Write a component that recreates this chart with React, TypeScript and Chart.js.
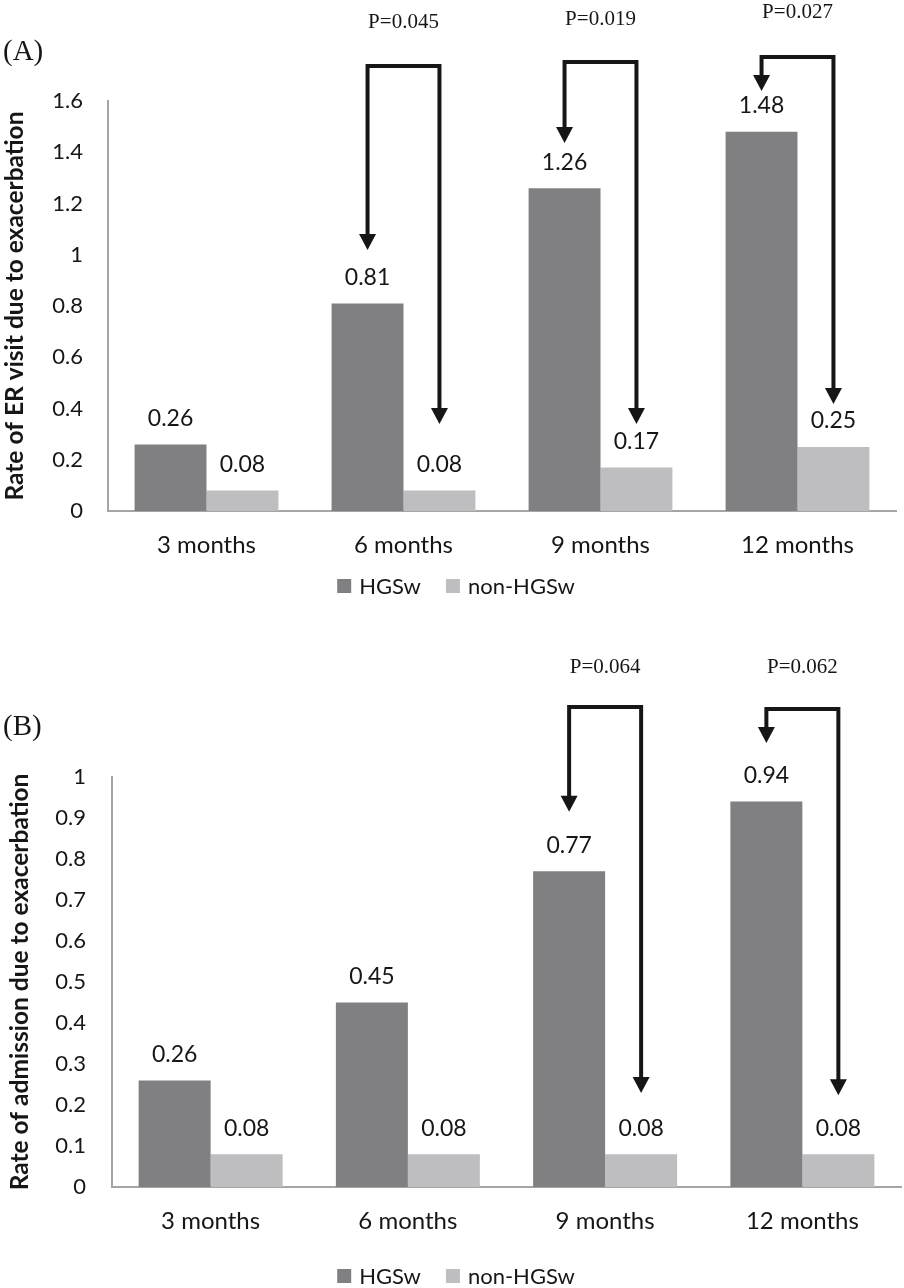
import React, { useEffect, useRef } from 'react';
import { Chart, registerables } from 'chart.js';

Chart.register(...registerables);

// ---------- data ----------
const categories = ['3 months', '6 months', '9 months', '12 months'];
const seriesLabels = ['HGSw', 'non-HGSw'];
const seriesColors = ['#808083', '#bebec0'];

// Panel A: ER visits
const erHGSw = [0.26, 0.81, 1.26, 1.48];
const erNonHGSw = [0.08, 0.08, 0.17, 0.25];
const erTicks = [0, 0.2, 0.4, 0.6, 0.8, 1, 1.2, 1.4, 1.6];
const erPText = ['', 'P=0.045', 'P=0.019', 'P=0.027'];
const erBracketTop = [null, 1.737, 1.752, 1.772];
const erLeftTip = [null, 1.019, 1.436, 1.639];
const erRightTip = [null, 0.34, 0.34, 0.418];
const erPAt = [null, 1.908, 1.92, 1.947];

// Panel B: admissions
const admHGSw = [0.26, 0.45, 0.77, 0.94];
const admNonHGSw = [0.08, 0.08, 0.08, 0.08];
const admTicks = [0, 0.1, 0.2, 0.3, 0.4, 0.5, 0.6, 0.7, 0.8, 0.9, 1];
const admPText = ['', '', 'P=0.064', 'P=0.062'];
const admBracketTop = [null, null, 1.171, 1.166];
const admLeftTip = [null, null, 0.915, 1.083];
const admRightTip = [null, null, 0.229, 0.224];
const admPAt = [null, null, 1.268, 1.266];

const TEXT = '#161616';
const SANS = 'Lato, "Noto Sans", sans-serif';
const SERIF = '"Liberation Serif", "DejaVu Serif", serif';

type PanelProps = {
  top: number;
  height: number;
  letter: string;
  letterY: number;
  yTitle: string;
  titlePad: number;
  hgsw: number[];
  non: number[];
  ticks: number[];
  pText: string[];
  bracketTop: (number | null)[];
  leftTip: (number | null)[];
  rightTip: (number | null)[];
  pAt: (number | null)[];
  padTop: number;
  padRight: number;
  yWidth: number;
  xHeight: number;
  yTickPad: number;
  legendY: number;
};

const annotPlugin = {
  id: 'annot',
  afterDatasetsDraw(chart: any, _args: any, opts: any) {
    const { ctx } = chart;
    const y = chart.scales.y;
    ctx.save();
    // value labels
    ctx.font = `23px ${SANS}`;
    ctx.fillStyle = TEXT;
    ctx.textAlign = 'center';
    ctx.textBaseline = 'middle';
    chart.data.datasets.forEach((ds: any, di: number) => {
      const meta = chart.getDatasetMeta(di);
      meta.data.forEach((bar: any, i: number) => {
        ctx.fillText(Number(ds.data[i]).toFixed(2), bar.x, bar.y - 26);
      });
    });
    // brackets with arrows
    const m0 = chart.getDatasetMeta(0);
    const m1 = chart.getDatasetMeta(1);
    const headH = 16;
    const headW = 17;
    ctx.strokeStyle = TEXT;
    ctx.lineWidth = 4;
    ctx.lineJoin = 'miter';
    ctx.lineCap = 'butt';
    opts.pText.forEach((t: string, i: number) => {
      if (!t) return;
      const xL = m0.data[i].x;
      const xR = m1.data[i].x;
      const yTop = y.getPixelForValue(opts.bracketTop[i]);
      const yL = y.getPixelForValue(opts.leftTip[i]);
      const yR = y.getPixelForValue(opts.rightTip[i]);
      ctx.beginPath();
      ctx.moveTo(xL, yL - headH + 1);
      ctx.lineTo(xL, yTop);
      ctx.lineTo(xR, yTop);
      ctx.lineTo(xR, yR - headH + 1);
      ctx.stroke();
      [[xL, yL], [xR, yR]].forEach(([ax, ay]) => {
        ctx.beginPath();
        ctx.moveTo(ax - headW / 2, ay - headH);
        ctx.lineTo(ax + headW / 2, ay - headH);
        ctx.lineTo(ax, ay);
        ctx.closePath();
        ctx.fillStyle = TEXT;
        ctx.fill();
      });
      ctx.font = `21px ${SERIF}`;
      ctx.textAlign = 'center';
      ctx.textBaseline = 'middle';
      ctx.fillText(t, (xL + xR) / 2, y.getPixelForValue(opts.pAt[i]));
    });
    // panel letter
    ctx.font = `29px ${SERIF}`;
    ctx.textAlign = 'left';
    ctx.textBaseline = 'middle';
    ctx.fillText(opts.letter, 3, opts.letterY);
    // legend
    ctx.font = `22px ${SANS}`;
    const box = 14;
    const gapText = 8;
    const gapItem = 25;
    const widths = seriesLabels.map((s) => box + gapText + ctx.measureText(s).width);
    const total = widths.reduce((a, b) => a + b, 0) + gapItem * (widths.length - 1);
    let x = chart.width / 2 + 4 - total / 2;
    seriesLabels.forEach((s, i) => {
      ctx.fillStyle = seriesColors[i];
      ctx.fillRect(x, opts.legendY - box / 2, box, box);
      ctx.fillStyle = TEXT;
      ctx.textAlign = 'left';
      ctx.fillText(s, x + box + gapText, opts.legendY + 1);
      x += widths[i] + gapItem;
    });
    ctx.restore();
  },
};

function Panel(p: PanelProps) {
  const ref = useRef<HTMLCanvasElement | null>(null);
  useEffect(() => {
    if (!ref.current) return;
    const chart = new Chart(ref.current, {
      type: 'bar',
      data: {
        labels: categories,
        datasets: [
          { label: seriesLabels[0], data: p.hgsw, backgroundColor: seriesColors[0], borderWidth: 0 },
          { label: seriesLabels[1], data: p.non, backgroundColor: seriesColors[1], borderWidth: 0 },
        ],
      },
      options: {
        responsive: false,
        animation: false,
        devicePixelRatio: 1,
        layout: { padding: { top: p.padTop, left: 0, right: p.padRight, bottom: 0 } },
        datasets: { bar: { barPercentage: 1, categoryPercentage: 0.73 } },
        plugins: {
          legend: { display: false },
          tooltip: { enabled: false },
          annot: {
            pText: p.pText,
            bracketTop: p.bracketTop,
            leftTip: p.leftTip,
            rightTip: p.rightTip,
            pAt: p.pAt,
            letter: p.letter,
            letterY: p.letterY,
            legendY: p.legendY,
          },
        } as any,
        scales: {
          x: {
            grid: { display: false, drawTicks: false },
            border: { display: true, color: '#a5a5a5', width: 2 },
            ticks: { color: TEXT, font: { family: SANS, size: 24 }, padding: 20 },
            afterFit: (s: any) => {
              s.height = p.xHeight;
            },
          },
          y: {
            min: 0,
            max: p.ticks[p.ticks.length - 1],
            grid: { display: false, drawTicks: false },
            border: { display: true, color: '#a5a5a5', width: 2 },
            afterBuildTicks: (s: any) => {
              s.ticks = p.ticks.map((v) => ({ value: v }));
            },
            ticks: {
              color: TEXT,
              font: { family: SANS, size: 22 },
              padding: p.yTickPad,
              callback: (v: any) => String(v),
            },
            title: {
              display: true,
              text: p.yTitle,
              color: TEXT,
              font: { family: SANS, size: 24.5, weight: 'bold' },
              padding: { top: p.titlePad, bottom: 0 },
            },
            afterFit: (s: any) => {
              s.width = p.yWidth;
            },
          },
        },
      },
      plugins: [annotPlugin],
    } as any);
    return () => chart.destroy();
  }, []);
  return (
    <canvas
      ref={ref}
      width={904}
      height={p.height}
      style={{ position: 'absolute', left: 0, top: p.top, width: 904, height: p.height, display: 'block' }}
    />
  );
}

export default function App() {
  return (
    <div style={{ position: 'absolute', left: 0, top: 0, width: 904, height: 1288, background: '#fff' }}>
      <Panel
        top={0}
        height={615}
        letter="(A)"
        letterY={52}
        yTitle="Rate of ER visit due to exacerbation"
        titlePad={0}
        hgsw={erHGSw}
        non={erNonHGSw}
        ticks={erTicks}
        pText={erPText}
        bracketTop={erBracketTop}
        leftTip={erLeftTip}
        rightTip={erRightTip}
        pAt={erPAt}
        padTop={101}
        padRight={8}
        yWidth={108}
        xHeight={104}
        yTickPad={25}
        legendY={586}
      />
      <Panel
        top={620}
        height={668}
        letter="(B)"
        letterY={107}
        yTitle="Rate of admission due to exacerbation"
        titlePad={5}
        hgsw={admHGSw}
        non={admNonHGSw}
        ticks={admTicks}
        pText={admPText}
        bracketTop={admBracketTop}
        leftTip={admLeftTip}
        rightTip={admRightTip}
        pAt={admPAt}
        padTop={157}
        padRight={3}
        yWidth={112}
        xHeight={101}
        yTickPad={26}
        legendY={656}
      />
    </div>
  );
}
